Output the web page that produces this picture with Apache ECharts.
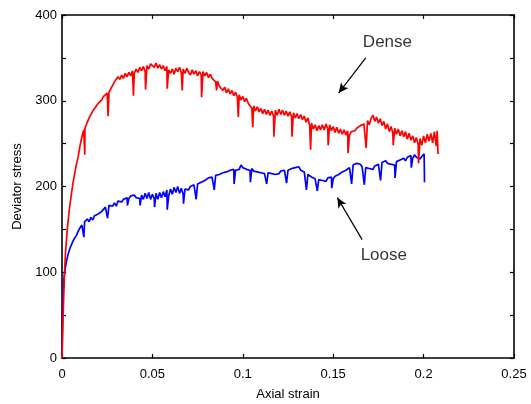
<!DOCTYPE html>
<html>
<head>
<meta charset="utf-8">
<script src="https://cdn.jsdelivr.net/npm/echarts@6/dist/echarts.min.js"></script>
<style>html,body{margin:0;padding:0;background:#fff}#c{width:531px;height:404px}</style>
</head>
<body>
<div id="c"></div>
<script>
// ---- data ----
const denseStrain = [0,0.0005,0.001,0.0015,0.002,0.003,0.004,0.005,0.006,0.007,0.008,0.009,0.010,0.011,0.012,0.0125,0.0126,0.0127,
0.013,0.014,0.015,0.016,0.017,0.018,0.019,0.020,0.021,0.022,0.023,0.024,0.025,0.0255,0.026,0.027,0.028,0.029,0.030,0.031,0.032,0.033,0.034,0.035,0.036,0.037,0.038,0.039,0.0395,
0.040,0.041,0.042,0.043,0.044,0.045,0.046,0.0462,0.047,0.048,0.049,0.050,0.051,0.052,0.053,0.054,0.055,0.056,0.057,0.058,0.0582,0.059,
0.060,0.061,0.062,0.063,0.064,0.065,0.066,0.0665,0.067,0.068,0.069,0.070,0.071,0.072,0.073,0.074,0.075,0.076,0.077,0.0772,0.078,0.079,
0.080,0.081,0.082,0.083,0.084,0.085,0.0855,0.086,0.087,0.088,0.089,0.090,0.091,0.092,0.093,0.094,0.095,0.096,0.097,0.0975,0.098,0.099,
0.100,0.101,0.102,0.103,0.104,0.105,0.1055,0.106,0.107,0.108,0.109,0.110,0.111,0.112,0.113,0.114,0.115,0.116,0.117,0.1172,0.118,0.119,
0.120,0.121,0.122,0.123,0.124,0.125,0.126,0.127,0.1272,0.128,0.129,0.130,0.131,0.132,0.133,0.134,0.135,0.136,0.137,0.1375,0.138,0.139,
0.140,0.141,0.142,0.143,0.144,0.145,0.146,0.147,0.1472,0.148,0.149,0.150,0.151,0.152,0.153,0.154,0.155,0.156,0.157,0.158,0.1582,0.159,
0.160,0.161,0.162,0.163,0.164,0.165,0.166,0.167,0.168,0.1682,0.169,0.170,0.171,0.172,0.173,0.174,0.175,0.176,0.177,0.178,0.179,
0.180,0.181,0.182,0.183,0.1832,0.184,0.185,0.186,0.187,0.188,0.189,0.190,0.191,0.192,0.193,0.194,0.195,0.196,0.197,0.1972,0.198,0.199,
0.200,0.201,0.202,0.203,0.204,0.205,0.206,0.207,0.2075,0.208];
const denseStress = [0,40,75,105,125,152,172,188,203,215,226,235,248,258,266,268,237,268,
270,275,280,284,288,291,294,297,299,301,305,307,309,282,310,314,318,322,325,328,325,330,326,332,328,333,329,335,306,
332,337,333,339,335,340,334,313,341,337,343,345,339,344,338,342,337,341,335,340,314,336,
332,337,331,338,334,339,333,312,337,332,338,333,330,336,331,335,329,334,330,304,334,329,
333,327,331,326,327,322,312,323,317,317,312,316,309,314,308,312,306,310,304,281,307,301,
305,299,303,297,296,291,269,294,288,293,287,291,285,290,284,289,283,288,282,258,289,283,
290,284,289,283,288,282,287,281,258,286,280,285,279,284,278,282,275,280,271,243,274,267,
272,265,271,266,272,266,273,267,248,272,265,270,263,269,262,267,261,266,260,265,239,260,
264,266,265,268,267,271,269,273,271,245,277,272,280,283,276,281,274,279,271,276,267,
273,264,270,262,248,268,261,267,259,265,258,264,255,262,254,259,251,257,249,227,256,248,
259,251,261,253,262,251,264,247,265,238];

const looseStrain = [0,0.0003,0.0007,0.001,0.0017,0.0025,0.0035,0.0044,0.006,0.007,0.008,0.009,0.010,0.011,0.012,0.0121,0.0125,
0.013,0.014,0.015,0.016,0.017,0.018,0.019,0.020,0.021,0.022,0.023,0.024,0.025,0.0252,0.026,0.027,0.028,0.029,
0.030,0.031,0.032,0.033,0.034,0.035,0.036,0.0362,0.037,0.038,0.039,0.040,0.041,0.042,0.043,0.0432,0.044,0.045,0.046,0.047,0.048,0.049,
0.050,0.051,0.0512,0.052,0.053,0.054,0.055,0.056,0.057,0.058,0.0582,0.059,0.060,0.061,0.062,0.063,0.064,0.065,0.066,0.067,0.0672,0.068,0.069,
0.070,0.071,0.072,0.073,0.074,0.0742,0.075,0.076,0.077,0.078,0.079,0.080,0.081,0.082,0.083,0.084,0.0842,0.085,0.086,0.087,0.088,0.089,
0.090,0.091,0.092,0.093,0.094,0.095,0.0952,0.096,0.097,0.098,0.099,0.100,0.101,0.102,0.103,0.104,0.1042,0.105,0.106,0.107,0.108,0.109,
0.110,0.111,0.112,0.113,0.1132,0.114,0.115,0.116,0.117,0.118,0.119,0.120,0.121,0.122,0.123,0.124,0.1242,0.125,0.126,0.127,0.128,0.129,
0.130,0.131,0.132,0.133,0.134,0.135,0.1352,0.136,0.137,0.138,0.139,0.140,0.141,0.1412,0.142,0.143,0.144,0.145,0.146,0.147,0.148,0.149,0.1492,
0.150,0.151,0.152,0.153,0.154,0.155,0.156,0.157,0.158,0.159,0.160,0.1602,0.161,0.162,0.163,0.164,0.165,0.166,0.167,0.1672,0.168,0.169,
0.170,0.171,0.172,0.173,0.174,0.175,0.176,0.1762,0.177,0.178,0.179,0.180,0.181,0.182,0.183,0.184,0.1842,0.185,0.186,0.187,0.188,0.189,
0.190,0.191,0.192,0.193,0.1932,0.194,0.195,0.196,0.197,0.198,0.199,0.200,0.2003,0.2005];
const looseStress = [0,45,80,91,103,113,122,128,136,140,143,148,152,155,157,141,159,
157,162,159,164,161,166,166,168,169,171,172,176,177,163,178,178,177,181,
177,183,183,182,185,184,187,178,186,189,188,190,187,189,186,178,190,185,192,186,193,185,
191,186,176,192,185,193,187,194,188,196,173,189,197,191,199,193,200,192,198,191,180,197,198,
196,200,199,202,200,185,203,202,205,203,207,206,210,208,211,210,196,213,211,214,213,216,
214,217,216,219,217,220,203,219,221,220,225,222,223,220,222,219,205,221,218,220,217,219,
216,218,215,217,203,216,218,215,217,214,216,215,218,216,219,217,204,219,218,221,219,222,
220,223,219,221,217,218,196,214,216,211,213,209,211,195,208,210,207,209,206,210,208,211,198,
209,212,210,214,212,217,215,219,218,222,221,203,225,223,227,225,226,223,225,202,222,224,
221,223,220,224,222,226,224,207,228,226,230,227,229,226,228,225,210,229,227,231,229,233,
230,234,232,236,222,233,237,234,236,232,235,233,238,205];

const xTicks = [0, 0.05, 0.1, 0.15, 0.2, 0.25];
const yTicks = [0, 100, 200, 300, 400];
// annotations: [text, textX, textY, arrowStartX, arrowStartY, arrowEndX, arrowEndY]
const denseNote = ['Dense', 0.180, 368, 0.168, 350, 0.153, 309];
const looseNote = ['Loose', 0.178, 120, 0.166, 138, 0.1523, 187];

const zip = (a, b) => a.map((v, i) => [v, b[i]]);
const fontFam = 'Liberation Sans, Arial, Helvetica, sans-serif';

function noteSeries(n) {
  return {
    type: 'scatter', symbolSize: 0, silent: true,
    data: [[n[1], n[2]]],
    label: { show: true, position: 'inside', formatter: n[0], color: '#000', fontSize: 17, fontFamily: fontFam },
    markLine: {
      silent: true, symbol: ['none', 'arrow'], symbolSize: [7, 10],
      lineStyle: { color: '#000', width: 1.2, type: 'solid' },
      label: { show: false },
      data: [[{ coord: [n[3], n[4]] }, { coord: [n[5], n[6]] }]]
    }
  };
}

const chart = echarts.init(document.getElementById('c'), null, { renderer: 'canvas' });
const axisCommon = {
  type: 'value',
  axisLine: { show: true, onZero: false, lineStyle: { color: '#000', width: 1.6 } },
  axisTick: { show: true, inside: true, length: 4, lineStyle: { color: '#000', width: 1.2 } },
  splitLine: { show: false }
};
chart.setOption({
  animation: false,
  backgroundColor: '#fff',
  textStyle: { fontFamily: fontFam },
  grid: { left: 62, right: 17, top: 15, bottom: 46, containLabel: false, outerBoundsMode: 'none' },
  xAxis: [
    Object.assign({}, axisCommon, {
      min: xTicks[0], max: xTicks[xTicks.length - 1], interval: 0.05, position: 'bottom',
      name: 'Axial strain', nameLocation: 'middle', nameGap: 30,
      nameTextStyle: { color: '#000', fontSize: 13, fontFamily: fontFam },
      axisLabel: { color: '#000', fontSize: 13, margin: 10, fontFamily: fontFam,
        formatter: v => xTicks.some(t => Math.abs(t - v) < 1e-9) ? String(+v.toFixed(3)) : '' }
    }),
    Object.assign({}, axisCommon, {
      min: xTicks[0], max: xTicks[xTicks.length - 1], interval: 0.05, position: 'top',
      axisLabel: { show: false }
    })
  ],
  yAxis: [
    Object.assign({}, axisCommon, {
      min: yTicks[0], max: yTicks[yTicks.length - 1], interval: 50, position: 'left',
      name: 'Deviator stress', nameLocation: 'middle', nameGap: 36,
      nameTextStyle: { color: '#000', fontSize: 13, fontFamily: fontFam },
      axisLabel: { color: '#000', fontSize: 13, margin: 5, fontFamily: fontFam,
        formatter: v => yTicks.indexOf(v) >= 0 ? String(v) : '' }
    }),
    Object.assign({}, axisCommon, {
      min: yTicks[0], max: yTicks[yTicks.length - 1], interval: 50, position: 'right',
      axisLabel: { show: false }
    })
  ],
  series: [
    { type: 'line', name: 'Dense', data: zip(denseStrain, denseStress), showSymbol: false, symbol: 'none',
      lineStyle: { color: '#ff0000', width: 1.7 }, z: 3 },
    { type: 'line', name: 'Loose', data: zip(looseStrain, looseStress), showSymbol: false, symbol: 'none',
      lineStyle: { color: '#0000ff', width: 1.7 }, z: 2 },
    noteSeries(denseNote),
    noteSeries(looseNote)
  ]
});
</script>
</body>
</html>
